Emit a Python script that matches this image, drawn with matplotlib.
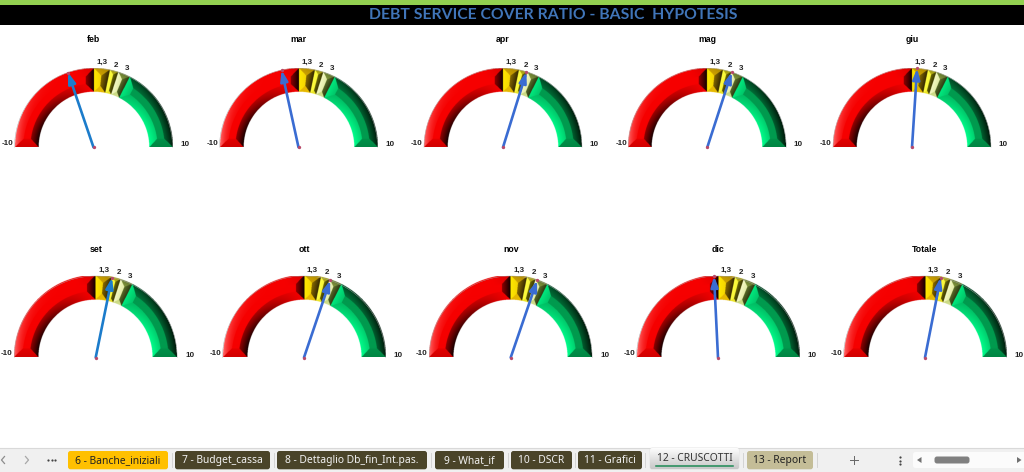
import numpy as np
import matplotlib
matplotlib.use('Agg')
import matplotlib.pyplot as plt
from matplotlib.patches import Polygon, Rectangle, FancyBboxPatch

W, H = 1024, 472

# data
months_top = ['feb', 'mar', 'apr', 'mag', 'giu']
values_top = [-2.09, -1.37, 1.92, 2.0, 0.41]
months_bottom = ['set', 'ott', 'nov', 'dic', 'Totale']
values_bottom = [1.28, 2.08, 2.1, -0.31, 1.23]
band_limits = [-10, 0, 1.3, 2, 3, 10]
tick_labels = ['1,3', '2', '3']
tick_values = [1.3, 2, 3]
title = 'DEBT SERVICE COVER RATIO - BASIC  HYPOTESIS'
sheet_tabs = ['6 - Banche_iniziali', '7 - Budget_cassa', '8 - Dettaglio Db_fin_Int.pas.',
              '9 - What_if', '10 - DSCR', '11 - Grafici', '12 - CRUSCOTTI', '13 - Report']

# layout, in pixels of the screenshot
centres_top = [93.5, 298.5, 503, 707.3, 912]
centres_bottom = [95.7, 304, 510.7, 718, 925]
base_top, radius_top = 147.3, 79
base_bottom, radius_bottom = 357.5, 81.5
tab_edges = [(68, 168), (175, 270), (277, 427), (435, 504), (511, 572), (578, 642), (650, 739), (747, 813)]
tab_colors = ['#ffc000', '#4a4429', '#4a4429', '#4a4429', '#4a4429', '#4a4429', None, '#c4bd97']
tab_text_colors = ['#222222', '#f2f2f2', '#f2f2f2', '#f2f2f2', '#f2f2f2', '#f2f2f2', '#333333', '#222222']

# dark, base and lit colour of each band, and how fast the lit colour comes in
ramps = [('#100000', '#f60000', '#ff7070', 3.0),
         ('#3a2c00', '#e4b400', '#ffe800', 1.0),
         ('#403e00', '#e6dc20', '#ffff40', 1.0),
         ('#2c3a12', '#a8c050', '#fdffd0', 0.8),
         ('#001c0c', '#009a4e', '#00ff8c', 1.0)]

NEEDLE_BLUE = '#3a6cd2'
NEEDLE_CYAN = '#1c7ccb'
INNER = 0.70
BEVEL = 0.105
SS = 4  # image pixels per screen pixel


def gauge_image(radius):
    # shaded bands as an image on the gauge's own -1..1 / 0..1 axes; facets meet like a picture frame
    nx_px, ny_px = int(2 * radius * SS), int(radius * SS)
    xs = (np.arange(nx_px) + 0.5) / nx_px * 2 - 1
    ys = (np.arange(ny_px) + 0.5) / ny_px
    x, y = np.meshgrid(xs, ys)
    r = np.hypot(x, y)
    t = np.arctan2(y, x)
    v = (90 - np.degrees(t)) / 9

    img = np.ones(x.shape + (3,))
    for i in range(len(band_limits) - 1):
        v0, v1 = band_limits[i], band_limits[i + 1]
        mask = (v >= v0) & (v < v1) & (r <= 1) & (r >= INNER)
        a0, a1 = np.radians(90 - 9 * v0), np.radians(90 - 9 * v1)
        dists = np.stack([1 - r, r - INNER, np.radians(9) * (v - v0) * r, np.radians(9) * (v1 - v) * r])
        nearest = dists.argmin(axis=0)
        dmin = dists.min(axis=0)
        s = np.zeros(x.shape)
        s = np.where(nearest == 0, -np.cos(t) - 0.25 * np.sin(t), s)
        s = np.where(nearest == 1, np.cos(t), s)
        s = np.where(nearest == 2, np.sin(a0) - 0.25 * abs(np.cos(a0)), s)
        s = np.where(nearest == 3, -np.sin(a1) - 0.25 * abs(np.cos(a1)), s)
        # bevels look rounded: strongest at the rim, fading towards the face
        s = s * (1 - 0.45 * np.clip(dmin / BEVEL, 0, 1))
        s = np.where(dmin >= BEVEL, 0.0, s)

        dark, base, lit = [np.array(matplotlib.colors.to_rgb(c)) for c in ramps[i][:3]]
        k_lit = np.clip(s, 0, 1)[..., None] ** ramps[i][3]
        k_dark = np.clip(-s, 0, 1)[..., None] ** 1.3
        col = base + (lit - base) * k_lit + (dark - base) * k_dark
        img[mask] = col[mask]
    return img


def draw_gauge(fig, cx, base, radius, name, value, needle_color):
    ax = fig.add_axes([(cx - radius) / W, (H - base) / H, 2 * radius / W, radius / H])
    ax.imshow(gauge_image(radius), extent=(-1, 1, 0, 1), origin='lower', aspect='auto', zorder=2,
              interpolation='hanning')
    ax.set_xlim(-1, 1)
    ax.set_ylim(0, 1)
    ax.axis('off')
    # grey rim on top of the arch
    aa = np.radians(np.linspace(0, 180, 120))
    ax.plot(np.cos(aa), np.sin(aa), color='#a8a8a8', lw=0.3, zorder=3, clip_on=False)

    a = np.radians(90 - 9 * value)
    tip = (np.cos(a), np.sin(a))
    ax.annotate('', xy=tip, xytext=(0, 0), zorder=5, annotation_clip=False,
                arrowprops=dict(arrowstyle='-|>,head_width=0.24,head_length=0.7', color=needle_color,
                                lw=1.9, shrinkA=0, shrinkB=0, mutation_scale=9))
    ax.plot([0, tip[0]], [0, tip[1]], ls='none', marker='o', ms=2.4, mew=0, color='#b84a6a',
            zorder=6, clip_on=False)

    lab = dict(ha='center', va='center', fontsize=5.8, fontweight='bold', color='#222222',
               family='Liberation Sans')
    ax.text(0, 108 / radius, name, **{**lab, 'fontsize': 6.3, 'color': 'black'})
    ax.text(-1.09, 0.05, '-10', **lab)
    ax.text(1.155, 0.03, '10', **lab)
    # tick labels sit a bit before the limit they belong to
    for t, val in zip(tick_labels, tick_values):
        th = np.radians(90 - 9 * (val - 0.45 if val > 2 else val - 0.3 if val > 1.5 else val - 0.7))
        ax.text(1.09 * np.cos(th), 1.09 * np.sin(th) - 0.01, t, **lab)


fig = plt.figure(figsize=(W / 100, H / 100), dpi=100, facecolor='white')

# header bands, tab bar and other sheet furniture in screen pixels
bg = fig.add_axes([0, 0, 1, 1])
bg.set_xlim(0, W)
bg.set_ylim(H, 0)
bg.axis('off')
bg.add_patch(Rectangle((0, 0), W, 5.2, fc='#92d050', ec='none'))
bg.add_patch(Rectangle((0, 5.2), W, 19.5, fc='black', ec='none'))
bg.text(553.5, 15.3, title, ha='center', va='center', fontsize=11.3, fontweight='bold',
        color='#4075b8', family='Lato')

bg.add_patch(Rectangle((0, 448), W, 24, fc='#f0f0f0', ec='none'))
bg.plot([0, W], [447.7, 447.7], color='#d9d9d9', lw=0.8)


def pill(x0, x1, y0, y1, color, ec='none', z=2):
    p = FancyBboxPatch((x0 + 2, y0 + 2), x1 - x0 - 4, y1 - y0 - 4, boxstyle='round,pad=2,rounding_size=2.5',
                       fc=color, ec=ec, lw=0.6, zorder=z, mutation_aspect=1)
    bg.add_patch(p)
    return p


for name, (x0, x1), col, tcol in zip(sheet_tabs, tab_edges, tab_colors, tab_text_colors):
    if col is None:
        p = pill(x0, x1, 448, 469.3, 'white', ec='#e2e2e2')
        im = bg.imshow(np.linspace(1.0, 0.78, 40).reshape(-1, 1), cmap='gray', vmin=0, vmax=1,
                       extent=(x0, x1, 469.3, 448), aspect='auto', zorder=2.1)
        im.set_clip_path(p)
        bg.plot([x0 + 6, x1 - 6], [466, 466], color='#1e8a55', lw=1.1, zorder=3)
        bg.text((x0 + x1) / 2, 458.2, name, ha='center', va='center', fontsize=7.4, color=tcol,
                family='Noto Sans', fontweight='medium', zorder=4)
    else:
        pill(x0, x1, 451, 469.3, col)
        bg.text((x0 + x1) / 2, 460.3, name, ha='center', va='center', fontsize=7.4, color=tcol,
                family='Noto Sans', zorder=4)
bg.set_xlim(0, W)
bg.set_ylim(H, 0)

for x in [171.5, 273.5, 431, 507.5, 575, 644.5, 743, 817]:
    bg.plot([x, x], [453, 467], color='#d4d4d4', lw=0.7)

# navigation arrows, dots, plus and scrollbar
grey = '#8c8c8c'
bg.plot([4.5, 1.5, 4.5], [456.5, 460, 463.5], color=grey, lw=0.9)
bg.plot([25.5, 28.5, 25.5], [456.5, 460, 463.5], color='#a8a8a8', lw=0.9)
bg.plot([48, 51.5, 55], [460, 460, 460], ls='none', marker='o', ms=1.6, color='#444444', mew=0)
bg.plot([850, 858], [460, 460], color='#666666', lw=0.7)
bg.plot([854, 854], [456, 464], color='#666666', lw=0.7)
bg.plot([899.5, 899.5, 899.5], [457, 460.5, 464], ls='none', marker='o', ms=1.6, color='#444444', mew=0)
pill(913, 1030, 452, 468, '#fbfbfb')
bg.add_patch(FancyBboxPatch((936, 458), 32, 4, boxstyle='round,pad=1.5,rounding_size=2.5', fc='#808080',
                            ec='none', zorder=3))
bg.add_patch(Polygon([(921.5, 457), (921.5, 463), (917, 460)], fc='#707070', ec='none', zorder=3))
bg.add_patch(Polygon([(1017, 457), (1017, 463), (1021.5, 460)], fc='#707070', ec='none', zorder=3))

for cx, name, v in zip(centres_top, months_top, values_top):
    draw_gauge(fig, cx, base_top, radius_top, name, v, NEEDLE_CYAN if name == 'feb' else NEEDLE_BLUE)
for cx, name, v in zip(centres_bottom, months_bottom, values_bottom):
    draw_gauge(fig, cx, base_bottom, radius_bottom, name, v, NEEDLE_CYAN if name == 'set' else NEEDLE_BLUE)

fig.savefig('out.png', dpi=100)
